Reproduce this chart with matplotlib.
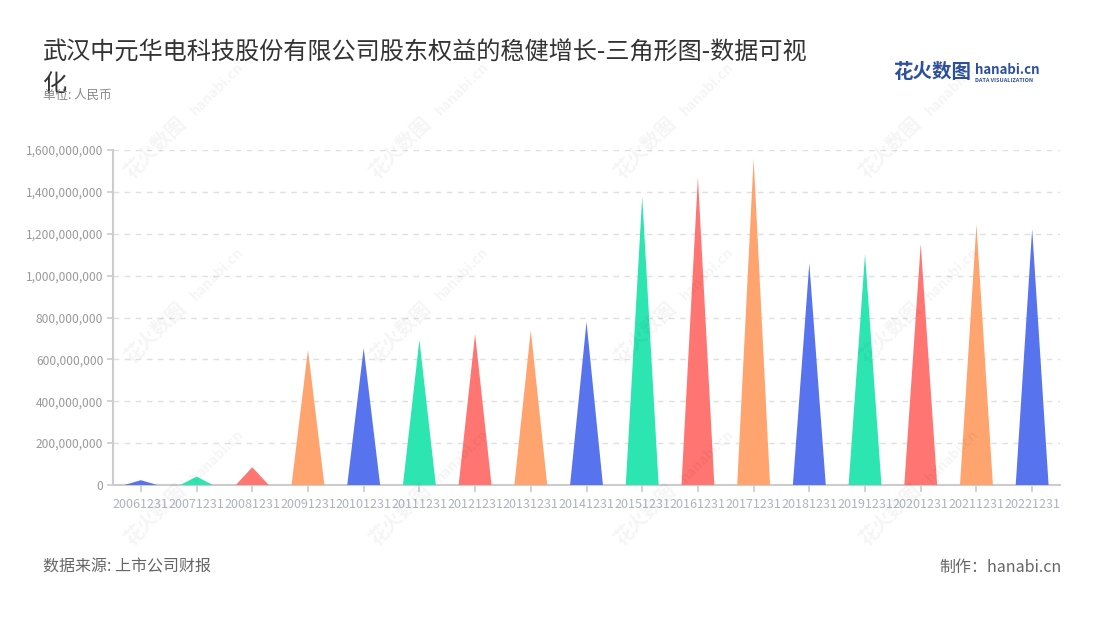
import matplotlib
matplotlib.use("Agg")
import matplotlib.pyplot as plt
from matplotlib.patches import Polygon
from matplotlib.ticker import FuncFormatter

plt.rcParams["font.family"] = ["Noto Sans CJK SC", "DejaVu Sans"]

# data (RMB)
periods = ["20061231", "20071231", "20081231", "20091231", "20101231", "20111231",
           "20121231", "20131231", "20141231", "20151231", "20161231", "20171231",
           "20181231", "20191231", "20201231", "20211231", "20221231"]
equity = [23e6, 40e6, 85e6, 645e6, 654e6, 693e6, 721e6, 740e6, 778e6, 1377e6,
          1470e6, 1560e6, 1059e6, 1102e6, 1151e6, 1245e6, 1223e6]
palette = ["#5873ee", "#2de5b1", "#ff7571", "#ffa46f"]

title = "武汉中元华电科技股份有限公司股东权益的稳健增长-三角形图-数据可视\n化"

W, H = 1100, 620
fig = plt.figure(figsize=(W / 100, H / 100), dpi=100, facecolor="white")
ax = fig.add_axes([113 / W, (H - 485) / H, (1060 - 113) / W, 335 / H])

half = 0.295
for i, v in enumerate(equity):
    tri = Polygon([(i - half, 0), (i, v), (i + half, 0)], closed=True,
                  facecolor=palette[i % 4], edgecolor="none", zorder=3)
    ax.add_patch(tri)

ax.set_xlim(-0.5, len(periods) - 0.5)
ax.set_ylim(0, 1.6e9)
ax.set_yticks([i * 2e8 for i in range(9)])
ax.yaxis.set_major_formatter(FuncFormatter(lambda v, _: f"{int(v):,}"))
ax.set_xticks(range(len(periods)))
ax.set_xticklabels(periods)

ax.grid(axis="y", color="#e0e0e0", linestyle=(0, (4, 4)), linewidth=1, zorder=0)
for s in ["top", "right"]:
    ax.spines[s].set_visible(False)
for s in ["left", "bottom"]:
    ax.spines[s].set_color("#cccccc")
    ax.spines[s].set_linewidth(1.5)
ax.tick_params(axis="y", colors="#cccccc", labelcolor="#999999", labelsize=8.6,
               length=4, width=1.2, pad=3)
ax.tick_params(axis="x", colors="#cccccc", labelcolor="#aeb2c0", labelsize=9,
               length=5, width=1.2, pad=4)

# watermark
for cx in [132, 377, 622, 867]:
    for cy in [180, 365, 547]:
        fig.text(cx / W, 1 - cy / H, "花火数图", rotation=45, rotation_mode="anchor",
                 ha="left", va="baseline", fontsize=14, fontweight="bold",
                 color="#000000", alpha=0.045, zorder=10)
        fig.text((cx + 64) / W, 1 - (cy - 64) / H, "hanabi.cn", rotation=45,
                 rotation_mode="anchor", ha="left", va="baseline", fontsize=10,
                 fontweight="bold", color="#000000", alpha=0.045, zorder=10)

# the wrapped second title line overlaps the unit note, as in the original
fig.text(43 / W, 1 - 40 / H, title, fontsize=17.4, color="#333333",
         ha="left", va="top", linespacing=1.25)
fig.text(43 / W, 1 - 95 / H, "单位: 人民币", fontsize=9, color="#888888",
         ha="left", va="center")

# logo
fig.text(893 / W, 1 - 73 / H, "花火数图", fontsize=14, fontweight="bold",
         color="#2d4f9e", ha="left", va="center")
fig.text(975 / W, 1 - 70 / H, "hanabi.cn", fontsize=9.5, fontweight="bold",
         color="#2d4f9e", ha="left", va="center")
fig.text(975 / W, 1 - 80 / H, "DATA VISUALIZATION", fontsize=4, fontweight="bold",
         color="#2d4f9e", ha="left", va="center")

fig.text(43 / W, 1 - 567 / H, "数据来源: 上市公司财报", fontsize=11.5, color="#666666",
         ha="left", va="center")
fig.text(1062 / W, 1 - 567 / H, "制作：hanabi.cn", fontsize=11.5, color="#666666",
         ha="right", va="center")

fig.savefig("out.png", dpi=100, facecolor="white")
